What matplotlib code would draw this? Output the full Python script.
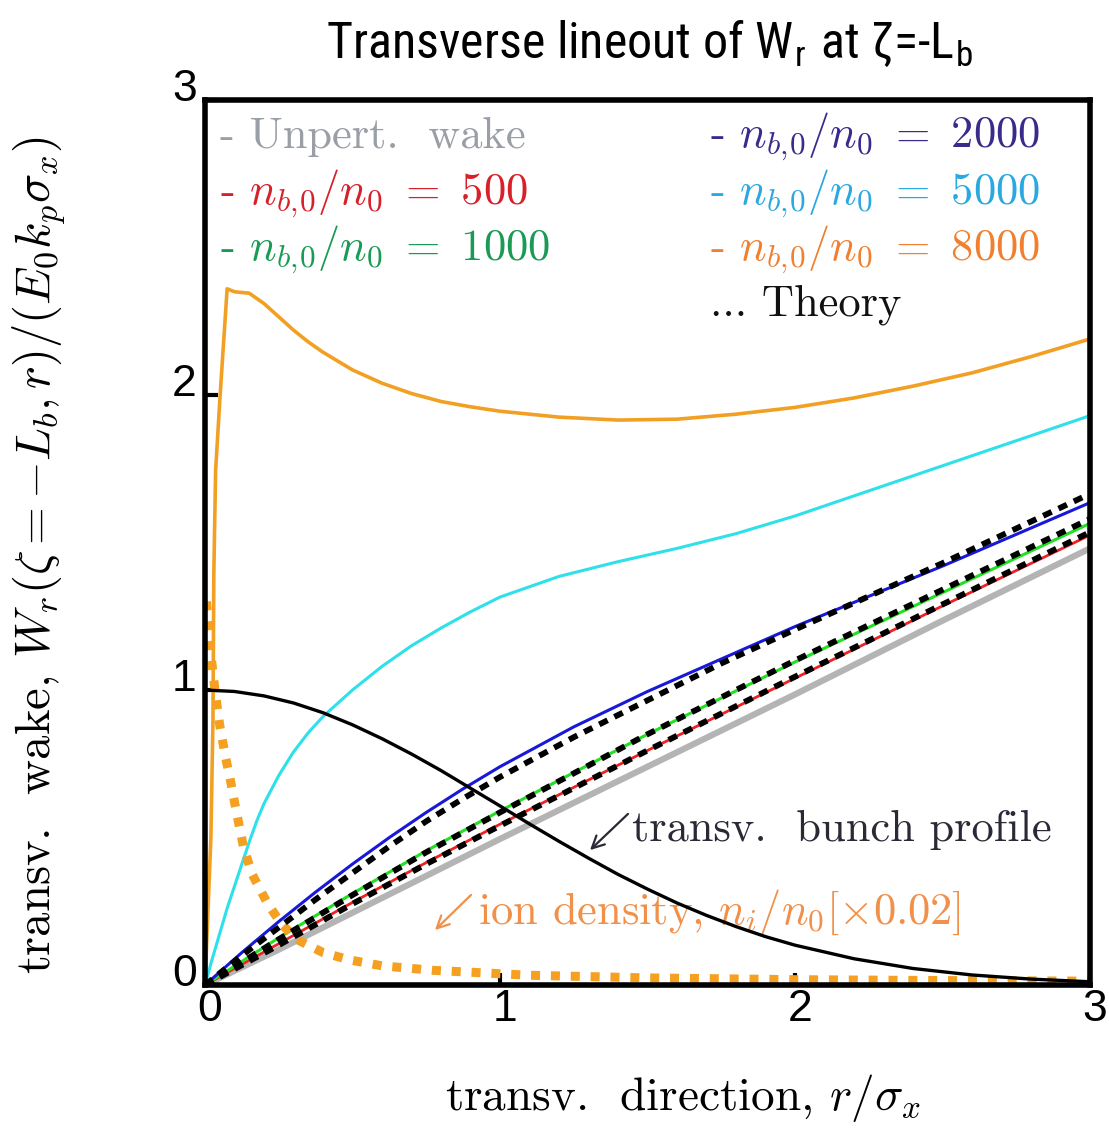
import matplotlib
matplotlib.use("Agg")
import matplotlib.pyplot as plt
import matplotlib.font_manager as fm
from matplotlib.transforms import ScaledTranslation

# values
x_lin = [0, 0.25, 0.5, 0.75, 1.0, 1.5, 2.0, 2.5, 3.0]
unpert = [0, 0.12, 0.245, 0.37, 0.495, 0.74, 0.985, 1.235, 1.48]
nb500 = [0, 0.14, 0.28, 0.415, 0.545, 0.795, 1.04, 1.285, 1.525]
nb1000 = [0, 0.16, 0.31, 0.455, 0.59, 0.85, 1.095, 1.33, 1.565]
th500 = [0, 0.135, 0.275, 0.41, 0.54, 0.795, 1.045, 1.29, 1.535]
th1000 = [0, 0.155, 0.305, 0.45, 0.585, 0.85, 1.1, 1.34, 1.58]

x_2000 = [0, 0.125, 0.25, 0.375, 0.5, 0.625, 0.75, 0.875, 1.0, 1.25, 1.5, 1.75, 2.0, 2.5, 3.0]
nb2000 = [0, 0.11, 0.215, 0.315, 0.41, 0.5, 0.585, 0.665, 0.74, 0.875, 0.995, 1.105, 1.215, 1.42, 1.635]
th2000 = [0, 0.1, 0.195, 0.29, 0.38, 0.47, 0.555, 0.632, 0.705, 0.84, 0.965, 1.09, 1.205, 1.43, 1.665]

x_5000 = [0, 0.025, 0.05, 0.075, 0.1, 0.125, 0.15, 0.175, 0.2, 0.25, 0.3, 0.35, 0.4, 0.5, 0.6,
          0.7, 0.8, 0.9, 1.0, 1.2, 1.4, 1.6, 1.8, 2.0, 2.25, 2.5, 2.75, 3.0]
nb5000 = [0, 0.09, 0.175, 0.26, 0.335, 0.41, 0.485, 0.555, 0.615, 0.71, 0.79, 0.855, 0.91, 1.0,
          1.08, 1.15, 1.21, 1.265, 1.315, 1.385, 1.435, 1.48, 1.53, 1.59, 1.675, 1.76, 1.845, 1.93]

x_8000 = [0, 0.02, 0.027, 0.03, 0.036, 0.051, 0.075, 0.1, 0.15, 0.2, 0.25, 0.3, 0.35, 0.4, 0.5,
          0.6, 0.7, 0.8, 0.9, 1.0, 1.2, 1.4, 1.6, 1.8, 2.0, 2.2, 2.4, 2.6, 2.8, 3.0]
nb8000 = [0, 0.5, 0.9, 1.4, 1.745, 1.995, 2.36, 2.35, 2.345, 2.31, 2.265, 2.22, 2.18, 2.145, 2.085,
          2.04, 2.005, 1.978, 1.96, 1.945, 1.925, 1.915, 1.918, 1.935, 1.958, 1.99, 2.03, 2.075,
          2.13, 2.19]

x_bunch = [0, 0.1, 0.2, 0.3, 0.4, 0.5, 0.6, 0.7, 0.8, 0.9, 1.0, 1.1, 1.2, 1.3, 1.4, 1.5, 1.6,
           1.7, 1.8, 1.9, 2.0, 2.2, 2.4, 2.6, 2.8, 3.0]
bunch = [1.0, 0.995, 0.98, 0.956, 0.923, 0.882, 0.835, 0.783, 0.727, 0.667, 0.607, 0.546, 0.487,
         0.43, 0.375, 0.325, 0.278, 0.236, 0.198, 0.164, 0.135, 0.089, 0.056, 0.034, 0.02, 0.011]

x_ion = [0.005, 0.02, 0.035, 0.05, 0.07, 0.085, 0.1, 0.13, 0.16, 0.21, 0.26, 0.32, 0.4, 0.49,
         0.6, 0.77, 1.1, 1.5, 2.0, 2.5, 3.0]
ion = [1.3, 1.12, 0.99, 0.88, 0.77, 0.70, 0.62, 0.47, 0.375, 0.28, 0.205, 0.15, 0.11, 0.085,
       0.065, 0.05, 0.033, 0.024, 0.018, 0.015, 0.013]

legend_left = ["Unpert.  wake", r"$n_{b,\!0}/n_0\ =\ 500$", r"$n_{b,\!0}/n_0\ =\ 1000$"]
legend_right = [r"$n_{b,\!0}/n_0\ =\ 2000$", r"$n_{b,\!0}/n_0\ =\ 5000$", r"$n_{b,\!0}/n_0\ =\ 8000$"]

names = {f.name for f in fm.fontManager.ttflist}
title_font = next((n for n in ["Liberation Sans Narrow", "Roboto Condensed", "Open Sans Condensed"]
                   if n in names), "Liberation Sans")

plt.rcParams["mathtext.fontset"] = "cm"
plt.rcParams["axes.unicode_minus"] = False
serif = "cmr10"
fs = 32

fig = plt.figure(figsize=(11.09, 11.31), dpi=100)
ax = fig.add_axes([205 / 1109, 1 - 985 / 1131, 885 / 1109, 885 / 1131])

ax.plot(x_lin, unpert, color="#b4b4b4", lw=4.5, solid_capstyle="butt", zorder=2)
ax.plot(x_lin, nb500, color="#ee2222", lw=2.0, zorder=3)
ax.plot(x_lin, nb1000, color="#22e022", lw=2.2, zorder=3)
ax.plot(x_2000, nb2000, color="#1818d8", lw=2.2, zorder=3)
ax.plot(x_5000, nb5000, color="#2ee0ea", lw=2.2, zorder=3)
ax.plot(x_8000, nb8000, color="#f2a024", lw=2.6, zorder=3)
ax.plot(x_lin, th500, color="black", lw=4.2, dashes=(1.6, 1.3), zorder=4)
ax.plot(x_lin, th1000, color="black", lw=4.2, dashes=(1.6, 1.3), zorder=4)
ax.plot(x_2000, th2000, color="black", lw=4.2, dashes=(1.6, 1.3), zorder=4)
ax.plot(x_bunch, bunch, color="black", lw=2.4, zorder=4)
ax.plot(x_ion, ion, color="#f5a020", lw=6.5, dashes=(1.0, 1.2), zorder=3)

ax.set_xlim(0, 3)
ax.set_ylim(0, 3)
ax.set_xticks([0, 1, 2, 3])
ax.set_yticks([0, 1, 2, 3])
for s in ax.spines.values():
    s.set_linewidth(4)
    s.set_zorder(5)
ax.tick_params(direction="in", length=9, width=3, labelsize=32, pad=6)
ax.tick_params(axis="x", pad=3)
for lab in ax.get_xticklabels() + ax.get_yticklabels():
    lab.set_fontfamily("Liberation Sans")
for lab in ax.get_yticklabels():
    lab.set_transform(lab.get_transform() + ScaledTranslation(0, 0.15, fig.dpi_scale_trans))
for lab in ax.get_xticklabels():
    lab.set_transform(lab.get_transform() + ScaledTranslation(0.05, 0, fig.dpi_scale_trans))

ax.set_xlabel(r"transv.  direction, $r/\sigma_x$", fontfamily=serif, fontsize=34)
ax.set_ylabel(r"transv.  wake, $W_r(\zeta=-L_b,r)/(E_0k_p\sigma_x)$", fontfamily=serif, fontsize=35)
ax.xaxis.set_label_coords((683 - 205) / 885, (985 - 1072) / 885)
ax.yaxis.set_label_coords((68 - 205) / 885, (985 - 555) / 885)

def ax_pt(px, py):
    return ((px - 205) / 885, (985 - py) / 885)

left_cols = ["#9a9ea6", "#d8202a", "#1a9a55"]
right_cols = ["#3b2a8c", "#2aa8e0", "#f08030"]
for i, (txt, c) in enumerate(zip(legend_left, left_cols)):
    ax.text(*ax_pt(220, 137 + 56.5 * i), "- " + txt, color=c, fontfamily=serif, fontsize=fs,
            va="center", ha="left", transform=ax.transAxes)
for i, (txt, c) in enumerate(zip(legend_right, right_cols)):
    ax.text(*ax_pt(710, 137 + 56.5 * i), "- " + txt, color=c, fontfamily=serif, fontsize=fs,
            va="center", ha="left", transform=ax.transAxes)
ax.text(*ax_pt(710, 305), "... Theory", color="#111111", fontfamily=serif, fontsize=fs,
        va="center", ha="left", transform=ax.transAxes)

ax.text(*ax_pt(632, 830), "transv.  bunch profile", color="#2a2a36", fontfamily=serif,
        fontsize=fs, va="center", ha="left", transform=ax.transAxes, zorder=1)
ax.annotate("", xy=ax_pt(588, 852), xytext=ax_pt(630, 812), xycoords="axes fraction",
            arrowprops=dict(arrowstyle="->", lw=1.6, color="#2a2a36", mutation_scale=22))
ax.text(*ax_pt(478, 912), r"ion density, $n_i/n_0[\times0.02]$", color="#f0904a",
        fontfamily=serif, fontsize=fs, va="center", ha="left", transform=ax.transAxes, zorder=1)
ax.annotate("", xy=ax_pt(433, 932), xytext=ax_pt(473, 893), xycoords="axes fraction",
            arrowprops=dict(arrowstyle="->", lw=1.6, color="#f0904a", mutation_scale=22))

fig.text(650 / 1109, 1 - 44 / 1131, r"Transverse lineout of W$_\mathregular{r}$ at ζ=-L$_\mathregular{b}$",
         fontfamily=title_font, fontsize=36, ha="center", va="center")

fig.savefig("out.png", dpi=100)
